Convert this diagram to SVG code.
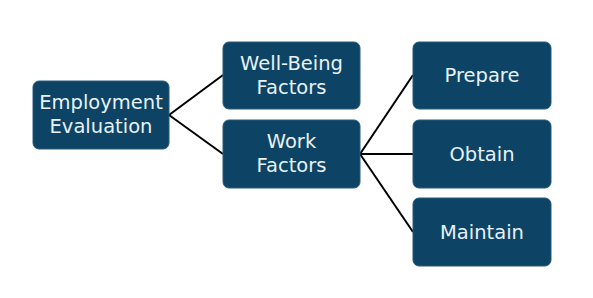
<svg xmlns="http://www.w3.org/2000/svg" width="593" height="298" viewBox="0 0 593 298">
<style>
.box{fill:#0d4465;stroke:#2a5b78;stroke-width:1}
.t{font-family:"DejaVu Sans","Liberation Sans",sans-serif;font-size:19.5px;fill:#e8f1f6;text-anchor:middle}
.c{stroke:#000;stroke-width:2;fill:none}
</style>
<rect width="593" height="298" fill="#fff"/>
<g id="connectors">
<line class="c" x1="169" y1="115" x2="223" y2="75"/>
<line class="c" x1="169" y1="115" x2="223" y2="154"/>
<line class="c" x1="360" y1="154" x2="413" y2="75"/>
<line class="c" x1="360" y1="154" x2="413" y2="154"/>
<line class="c" x1="360" y1="154" x2="413" y2="232"/>
</g>
<g id="employment-evaluation">
<rect class="box" x="33" y="81" width="136" height="68" rx="6"/>
<text class="t" x="101" y="109">Employment</text>
<text class="t" x="101" y="133">Evaluation</text>
</g>
<g id="well-being-factors">
<rect class="box" x="223" y="42" width="137" height="67" rx="6"/>
<text class="t" x="291.5" y="70">Well-Being</text>
<text class="t" x="291.5" y="94">Factors</text>
</g>
<g id="work-factors">
<rect class="box" x="223" y="120" width="137" height="68" rx="6"/>
<text class="t" x="291.5" y="148">Work</text>
<text class="t" x="291.5" y="172">Factors</text>
</g>
<g id="prepare">
<rect class="box" x="413" y="42" width="138" height="67" rx="6"/>
<text class="t" x="482" y="82">Prepare</text>
</g>
<g id="obtain">
<rect class="box" x="413" y="120" width="138" height="68" rx="6"/>
<text class="t" x="482" y="161">Obtain</text>
</g>
<g id="maintain">
<rect class="box" x="413" y="198" width="138" height="68" rx="6"/>
<text class="t" x="482" y="239">Maintain</text>
</g>
</svg>
